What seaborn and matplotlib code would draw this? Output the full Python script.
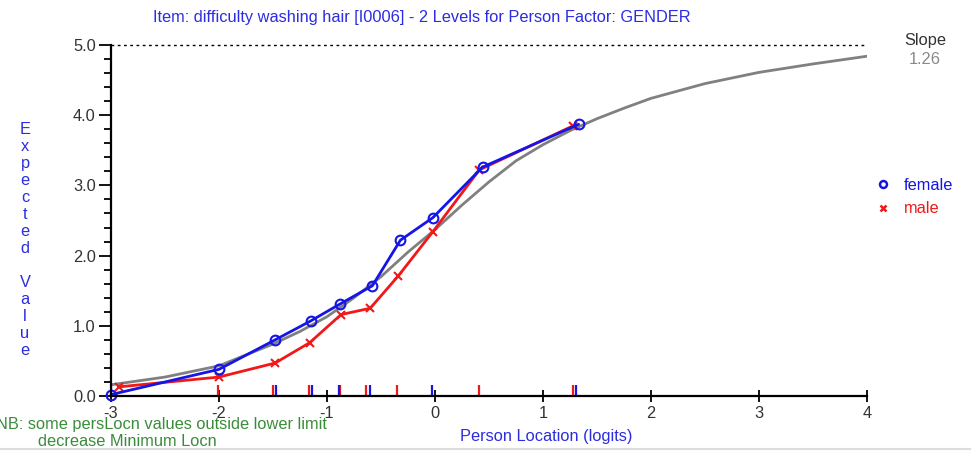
import matplotlib
matplotlib.use("Agg")
import matplotlib.pyplot as plt
import pandas as pd
import seaborn as sns
from matplotlib.lines import Line2D
from matplotlib.ticker import MultipleLocator

female_x = [-3.0, -2.0, -1.48, -1.15, -0.88, -0.58, -0.32, -0.02, 0.44, 1.33]
female_y = [0.02, 0.38, 0.80, 1.07, 1.31, 1.57, 2.22, 2.54, 3.26, 3.87]
male_x = [-2.93, -2.0, -1.48, -1.16, -0.87, -0.60, -0.34, -0.02, 0.41, 1.28]
male_y = [0.13, 0.27, 0.47, 0.76, 1.16, 1.25, 1.71, 2.34, 3.22, 3.85]

# expected value curve
curve_x = [-3.0, -2.5, -2.0, -1.5, -1.25, -1.0, -0.75, -0.5, -0.25, 0.0, 0.25,
           0.5, 0.75, 1.0, 1.25, 1.5, 1.75, 2.0, 2.5, 3.0, 3.5, 4.0]
curve_y = [0.16, 0.27, 0.43, 0.74, 0.92, 1.13, 1.40, 1.70, 2.05, 2.37, 2.72,
           3.05, 3.35, 3.58, 3.78, 3.95, 4.10, 4.24, 4.45, 4.61, 4.73, 4.84]

# class interval marks on the x axis
male_rug = [-2.01, -1.50, -1.17, -0.88, -0.64, -0.35, 0.41, 1.28]
female_rug = [-3.0, -1.47, -1.14, -0.89, -0.60, -0.03, 1.31]

x_ticks = [-3, -2, -1, 0, 1, 2, 3, 4]
y_ticks = [0.0, 1.0, 2.0, 3.0, 4.0, 5.0]

BLUE = "#1515e6"
RED = "#f01818"
GRAY = "#808080"
FS = 11.8


def main():
    sns.set_theme(style="white")
    plt.rcParams['font.family'] = ['Liberation Sans', 'DejaVu Sans']

    fig = plt.figure(figsize=(9.71, 4.53), dpi=100)
    ax = fig.add_axes([0.1143, 0.1258, 0.7786, 0.7749])

    curve = pd.DataFrame({"x": curve_x, "y": curve_y})
    fem = pd.DataFrame({"x": female_x, "y": female_y})
    mal = pd.DataFrame({"x": male_x, "y": male_y})

    sns.lineplot(data=curve, x="x", y="y", color=GRAY, lw=2, sort=False,
                 ax=ax)
    sns.lineplot(data=mal, x="x", y="y", color=RED, lw=2, sort=False,
                 marker="x", markersize=6, mec=RED, mew=1.5, ax=ax,
                 clip_on=False)
    sns.lineplot(data=fem, x="x", y="y", color=BLUE, lw=2, sort=False,
                 marker="o", markersize=7, mfc="none", mec=BLUE, mew=1.5,
                 ax=ax, clip_on=False)

    sns.rugplot(x=male_rug, height=0.03, color=RED, linewidth=1.6, ax=ax)
    sns.rugplot(x=female_rug, height=0.03, color=BLUE, linewidth=1.6, ax=ax)

    ax.set_xlim(-3, 4)
    ax.set_ylim(0, 5)
    ax.axhline(5.0, color="black", lw=1, ls=(0, (2, 2.5)), clip_on=False)

    for s in ["top", "right"]:
        ax.spines[s].set_visible(False)
    for s in ["left", "bottom"]:
        ax.spines[s].set_color("black")
        ax.spines[s].set_linewidth(1.6)

    ax.set_xticks(x_ticks)
    ax.set_xticklabels([str(t) for t in x_ticks])
    ax.set_yticks(y_ticks)
    ax.set_yticklabels(["%.1f" % t for t in y_ticks])
    ax.yaxis.set_minor_locator(MultipleLocator(0.2))
    ax.tick_params(axis="y", which="major", direction="out", length=9,
                   width=1.3, color="black", labelsize=FS, labelcolor="#333333",
                   pad=2, left=True)
    ax.tick_params(axis="y", which="minor", direction="out", length=5,
                   width=1.3, color="black", left=True)
    ax.tick_params(axis="x", which="major", direction="inout", length=8,
                   width=1.3, color="black", labelsize=FS, labelcolor="#333333",
                   pad=3.5, bottom=True)
    ax.set_xlabel("")
    ax.set_ylabel("")

    fig.text(0.434, 0.962, "Item: difficulty washing hair [I0006] - 2 Levels for "
             "Person Factor: GENDER", color="#2c2ce0", fontsize=FS,
             ha="center", va="center")

    fig.text(25 / 971, 1 - 240 / 453, "\n".join("Expected Value"),
             color="#2c2ce0", fontsize=FS, ha="center", va="center",
             multialignment="center", linespacing=1.17)

    fig.text(546 / 971, 1 - 436 / 453, "Person Location (logits)",
             color="#2c2ce0", fontsize=FS, ha="center", va="center")

    fig.text(-4 / 971, 1 - 424 / 453, "NB: some persLocn values outside lower limit",
             color="#3a8c3a", fontsize=FS, ha="left", va="center")
    fig.text(38 / 971, 1 - 441 / 453, "decrease Minimum Locn",
             color="#3a8c3a", fontsize=FS, ha="left", va="center")

    fig.text(925 / 971, 1 - 41 / 453, "Slope", color="#333333",
             fontsize=FS, ha="center", va="center")
    fig.text(925 / 971, 1 - 60 / 453, "1.26", color="#8a8a8a",
             fontsize=FS, ha="center", va="center")

    handles = [Line2D([], [], ls="", marker="o", mfc="none", mec=BLUE, mew=1.8,
                      markersize=5, color=BLUE),
               Line2D([], [], ls="", marker="x", mec=RED, mew=1.8,
                      markersize=5, color=RED)]
    leg = fig.legend(handles, ["female", "male"], loc="upper left",
                     bbox_to_anchor=(868 / 971, 1 - 170 / 453), frameon=False,
                     handlelength=0.8, handletextpad=0.9, labelspacing=0.5,
                     fontsize=FS, borderpad=0)
    leg.get_texts()[0].set_color(BLUE)
    leg.get_texts()[1].set_color(RED)

    fig.add_artist(Line2D([0, 1], [1 - 449 / 453, 1 - 449 / 453],
                          color="#dddddd", lw=1.5))

    fig.savefig("out.png", dpi=100)
    plt.close(fig)


if __name__ == "__main__":
    main()
